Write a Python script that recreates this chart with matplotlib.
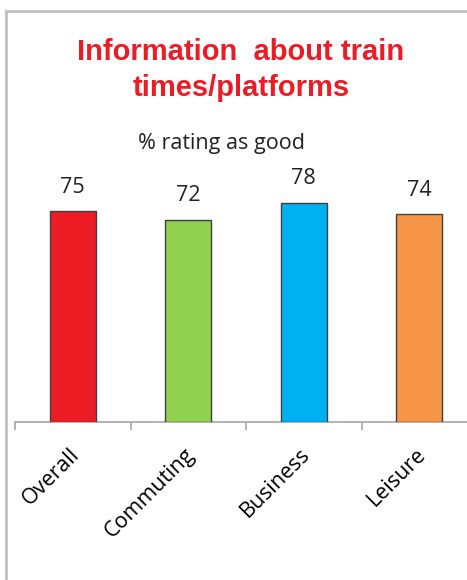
import matplotlib.pyplot as plt
from matplotlib.lines import Line2D

categories = ['Overall', 'Commuting', 'Business', 'Leisure']
values = [75, 72, 78, 74]
colors = ['#ed1c24', '#92d050', '#00b0f0', '#f79646']

W, H = 467, 580
fig = plt.figure(figsize=(W/100, H/100), dpi=100)

# chart border (only left and top visible in the crop)
fig.add_artist(Line2D([6/W, 6/W], [0, 1-11/H], transform=fig.transFigure, color='#c0c0c0', lw=2))
fig.add_artist(Line2D([6/W, 1], [1-11/H, 1-11/H], transform=fig.transFigure, color='#c0c0c0', lw=2))

# axes: x from 15px to 477px, y zero at 422px, 100 at 141px
left, right = 15/W, 477/W
bottom, top = 1-422/H, 1-141/H
ax = fig.add_axes([left, bottom, right-left, top-bottom])

x = list(range(len(categories)))
ax.bar(x, values, width=0.4, color=colors, edgecolor='#404040', linewidth=1, zorder=3)

for i, v in enumerate(values):
    ax.text(i, v+8.5, str(v), ha='center', va='center', fontsize=15.5, family='Open Sans', color='#222222')

ax.set_xlim(-0.5, 3.5)
ax.set_ylim(0, 100)
for s in ['left', 'right', 'top']:
    ax.spines[s].set_visible(False)
ax.spines['bottom'].set_color('#a6a6a6')
ax.spines['bottom'].set_linewidth(1.2)
ax.set_yticks([])
ax.set_xticks([-0.5, 0.5, 1.5, 2.5, 3.5])
ax.set_xticklabels([])
ax.tick_params(axis='x', length=6, color='#a6a6a6', width=1.2)

for i, c in enumerate(categories):
    ax.annotate(c, xy=(i, 0), xytext=(-3, -16), textcoords='offset points',
                rotation=45, ha='right', va='top', rotation_mode='anchor',
                fontsize=15.5, family='Open Sans', color='black')

fig.text(241/W, 1-52/H, 'Information  about train', ha='center', va='center',
         fontsize=21, fontweight='bold', family='Liberation Sans', color='#ed1c24')
fig.text(241/W, 1-88/H, 'times/platforms', ha='center', va='center',
         fontsize=21, fontweight='bold', family='Liberation Sans', color='#ed1c24')
fig.text(222/W, 1-143/H, '% rating as good', ha='center', va='center',
         fontsize=15.5, family='Open Sans', color='#222222')

fig.savefig('out.png', dpi=100)
